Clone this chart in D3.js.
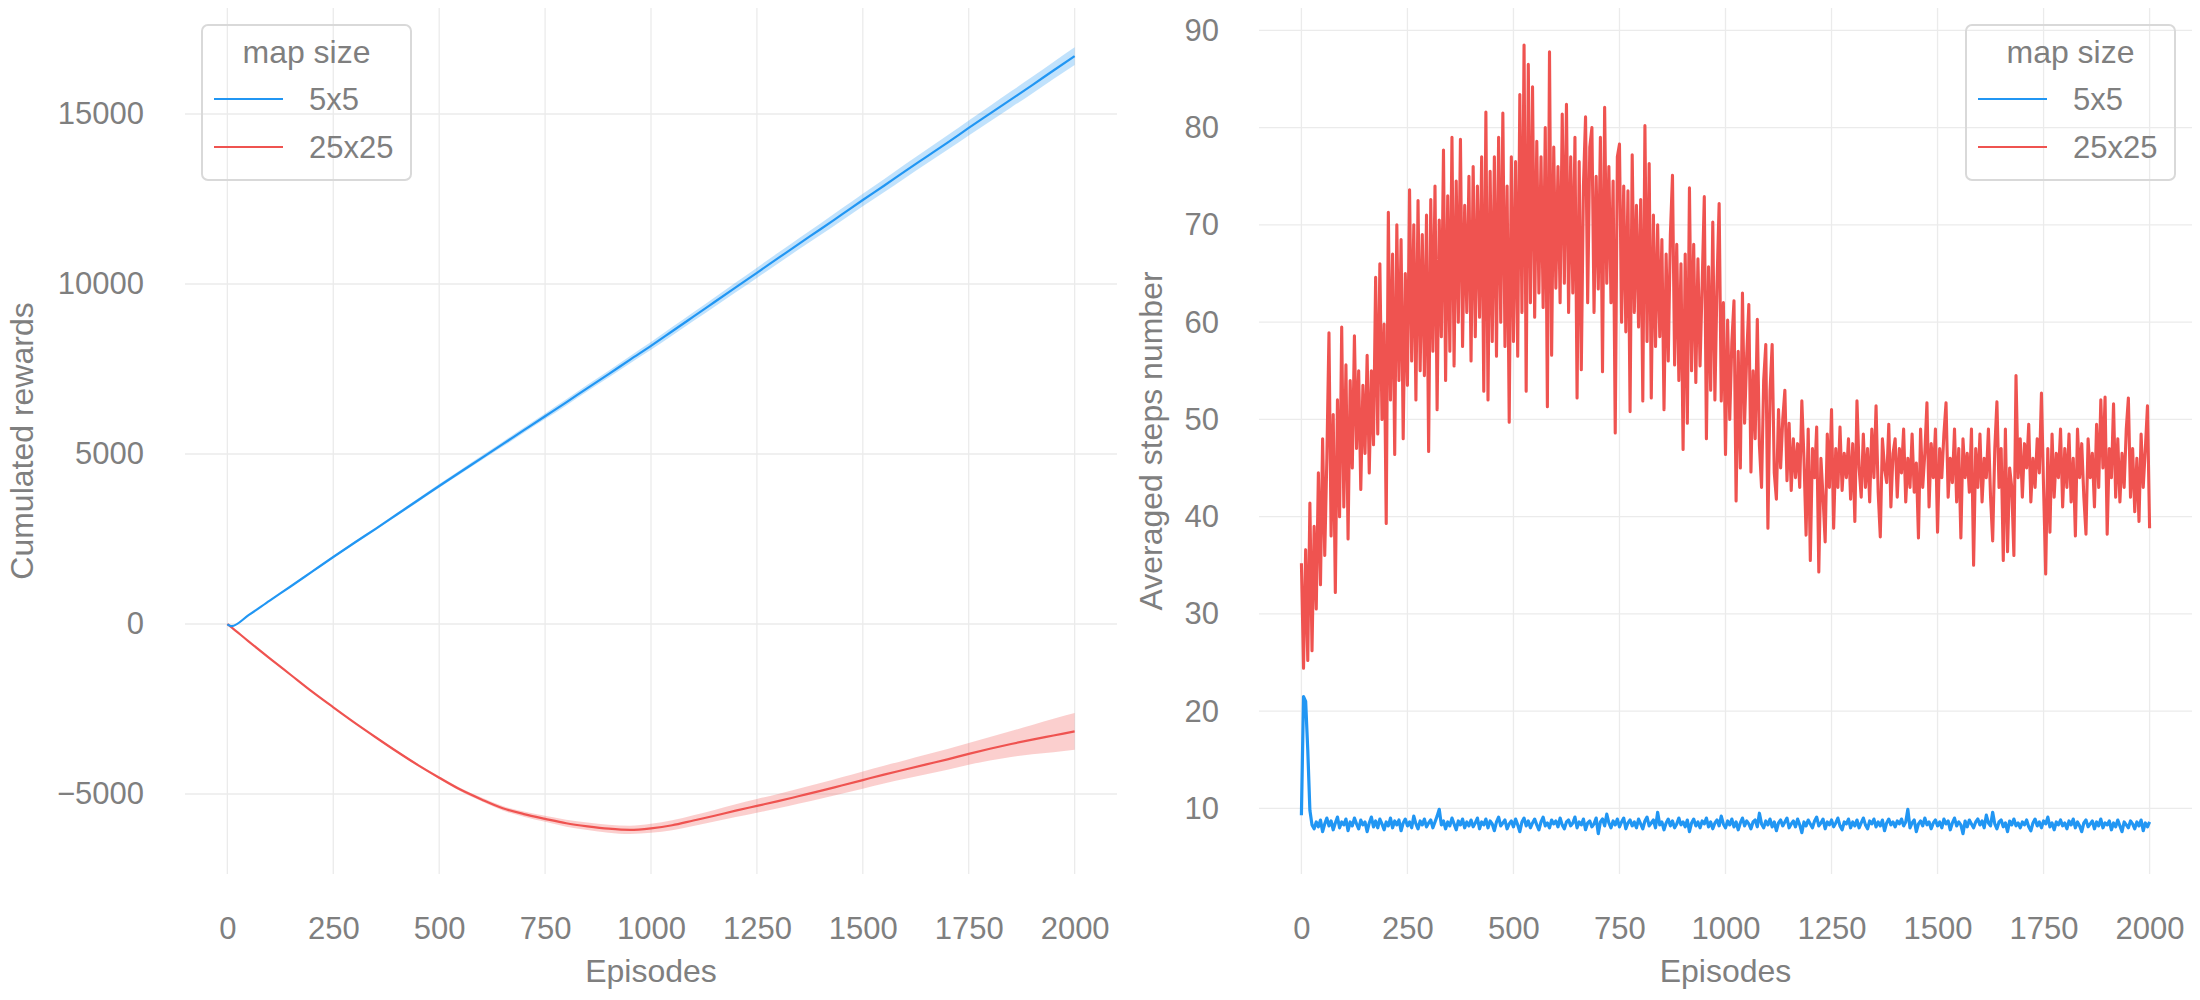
<!DOCTYPE html>
<html>
<head>
<meta charset="utf-8">
<script src="https://cdn.jsdelivr.net/npm/d3@7/dist/d3.min.js"></script>
<style>
  body { margin: 0; background: #ffffff; }
  svg { display: block; }
  text { font-family: "Liberation Sans", Arial, sans-serif; fill: #7f7f7f; }
</style>
</head>
<body>
<svg id="chart" width="2200" height="1000"></svg>
<script>
// ---------------- DATA ----------------
const seriesNames = ["5x5", "25x25"];
const seriesColors = ["#2196F3", "#EF5350"];
const legendTitle = "map size";

// Left panel: cumulated rewards (mean and spread of ribbon)
const leftEpisodes = [0, 10, 50, 100, 150, 200, 250, 300, 350, 400, 450, 500, 550, 600, 650, 700, 750, 800, 850, 900, 950, 1000,
  1050, 1100, 1150, 1200, 1250, 1300, 1350, 1400, 1450, 1500, 1550, 1600, 1650, 1700, 1750, 1800, 1850, 1900, 1950, 2000];
const rewards5x5 = [-10, -60, 260, 690, 1110, 1540, 1970, 2390, 2800, 3220, 3640, 4060, 4470, 4880, 5290, 5700, 6110, 6520, 6940, 7350, 7770, 8180,
  8610, 9040, 9470, 9900, 10330, 10760, 11190, 11610, 12040, 12470, 12890, 13320, 13740, 14160, 14590, 15010, 15430, 15850, 16280, 16700];
const spread5x5 = [0, 5, 10, 15, 20, 25, 30, 35, 40, 45, 50, 55, 60, 66, 72, 78, 84, 90, 96, 102, 108, 115,
  122, 129, 136, 143, 150, 157, 164, 171, 178, 185, 192, 199, 206, 213, 220, 228, 236, 244, 252, 260];
const rewards25x25 = [0, -100, -510, -1010, -1500, -1990, -2450, -2900, -3330, -3750, -4150, -4520, -4870, -5160, -5420, -5590, -5730, -5860, -5950, -6020, -6055, -6010,
  -5920, -5780, -5640, -5490, -5350, -5210, -5060, -4910, -4750, -4590, -4430, -4280, -4130, -3980, -3820, -3670, -3530, -3400, -3280, -3160];
const spread25x25 = [0, 5, 10, 12, 14, 16, 18, 20, 24, 28, 34, 40, 48, 56, 66, 76, 88, 100, 110, 118, 124, 132,
  145, 158, 172, 186, 200, 212, 222, 232, 242, 252, 262, 275, 290, 305, 320, 345, 380, 430, 490, 540];

// Right panel: averaged steps number, one value every 5 episodes (0..2000)
const stepEpisodeInterval = 5;
const steps5x5 = [
  9.3, 21.5, 21.0, 16.0, 9.8, 8.3, 7.9, 8.6, 8.1, 8.8, 7.6, 8.4, 9.0, 8.2, 8.7, 7.8, 8.5, 9.1, 8.0, 8.6,
  8.3, 8.9, 7.7, 8.6, 8.2, 9.0, 8.4, 7.9, 8.8, 8.3, 8.6, 7.6, 8.5, 9.1, 8.1, 8.7, 8.0, 8.9, 8.4, 7.8,
  8.6, 8.2, 9.0, 8.0, 8.7, 8.3, 8.8, 7.7, 8.5, 8.9, 8.2, 8.6, 8.0, 9.2, 8.4, 7.9, 8.7, 8.3, 8.9, 8.1,
  8.5, 8.8, 8.0, 8.6, 9.2, 9.9, 8.3, 8.7, 7.9, 8.6, 8.2, 9.0, 8.4, 7.8, 8.7, 8.3, 8.9, 8.0, 8.6, 8.2,
  8.8, 8.1, 8.5, 9.0, 7.9, 8.6, 8.3, 8.9, 8.0, 8.7, 8.4, 7.7, 8.6, 9.1, 8.2, 8.5, 8.8, 7.9, 8.4, 8.7,
  8.1, 8.9, 8.3, 7.6, 8.6, 9.0, 8.2, 8.7, 8.0, 8.5, 8.9, 8.3, 7.8, 8.6, 9.1, 8.2, 8.5, 8.0, 8.8, 8.4,
  8.7, 8.1, 9.0, 8.3, 7.9, 8.6, 8.8, 8.2, 8.5, 9.1, 8.0, 8.6, 8.3, 8.9, 7.8, 8.5, 8.7, 8.1, 8.4, 9.0,
  7.4, 8.6, 8.9, 8.2, 9.4, 8.5, 8.0, 8.7, 8.3, 8.9, 8.1, 8.6, 9.0, 7.9, 8.5, 8.8, 8.2, 8.6, 8.0, 8.9,
  8.4, 7.9, 8.7, 9.1, 8.2, 8.5, 8.8, 8.0, 9.6, 8.3, 8.6, 7.8, 8.5, 8.9, 8.2, 8.7, 8.0, 8.4, 9.0, 8.3,
  8.6, 8.1, 8.8, 7.6, 8.5, 8.9, 8.2, 8.6, 8.0, 8.7, 8.4, 9.0, 8.1, 8.6, 7.9, 8.5, 8.8, 8.2, 9.2, 8.4,
  8.0, 8.7, 8.3, 8.9, 8.1, 8.6, 7.8, 8.5, 9.0, 8.2, 8.7, 8.4, 7.9, 8.6, 8.8, 8.1, 9.5, 8.4, 8.0, 8.7,
  8.3, 8.9, 8.1, 8.6, 7.7, 8.5, 8.8, 8.2, 8.6, 9.0, 8.0, 8.4, 8.7, 8.1, 8.9, 8.3, 7.5, 8.6, 8.2, 8.8,
  8.4, 8.0, 8.7, 9.1, 8.2, 8.5, 8.9, 7.9, 8.6, 8.3, 8.8, 8.1, 8.5, 9.0, 8.2, 7.8, 8.6, 8.4, 8.9, 8.0,
  8.6, 8.2, 8.8, 8.0, 8.5, 9.0, 8.3, 7.9, 8.7, 8.4, 8.9, 8.1, 8.6, 8.2, 8.8, 7.7, 8.5, 8.9, 8.3, 8.6,
  8.1, 8.7, 8.4, 8.9, 8.2, 8.6, 9.9, 8.0, 8.5, 8.8, 7.6, 8.4, 8.7, 8.2, 9.0, 8.3, 8.6, 7.9, 8.5, 8.8,
  8.2, 8.6, 8.0, 8.9, 8.4, 8.7, 7.8, 8.5, 9.0, 8.2, 8.6, 8.3, 7.4, 8.7, 8.1, 8.8, 8.4, 8.0, 8.6, 8.9,
  8.3, 8.7, 8.0, 9.3, 8.5, 8.2, 9.6, 8.4, 7.9, 8.6, 8.8, 8.1, 8.5, 7.6, 8.7, 8.3, 8.9, 8.2, 8.5, 8.0,
  8.6, 8.3, 8.8, 8.1, 7.7, 8.5, 8.9, 8.2, 8.6, 8.0, 8.7, 8.4, 9.1, 8.1, 8.5, 7.8, 8.6, 8.3, 8.8, 8.2,
  8.5, 7.9, 8.7, 8.3, 8.9, 8.0, 8.6, 8.2, 7.6, 8.5, 8.8, 8.1, 8.4, 8.7, 7.9, 8.6, 8.2, 8.9, 8.0, 8.5,
  8.3, 8.7, 7.8, 8.5, 8.1, 8.8, 8.2, 7.6, 8.6, 8.3, 8.0, 8.7, 8.4, 7.9, 8.6, 8.2, 8.8, 7.7, 8.5, 8.1,
  8.6
];
const steps25x25 = [
  35.2, 24.4, 36.6, 25.2, 41.4, 26.2, 39.0, 30.5, 44.5, 33.0,
  48.0, 36.0, 46.0, 58.9, 38.0, 50.5, 32.2, 52.0, 40.0, 59.5,
  41.0, 55.6, 37.7, 54.0, 45.0, 58.6, 47.0, 55.0, 42.8, 53.5,
  46.5, 56.6, 44.5, 55.0, 47.4, 64.6, 48.5, 66.0, 50.0, 59.8,
  39.3, 71.3, 52.0, 67.0, 46.4, 70.0, 54.0, 68.5, 48.0, 65.0,
  53.5, 73.6, 56.0, 70.0, 52.0, 72.5, 55.0, 69.0, 54.5, 71.0,
  46.7, 72.6, 57.0, 74.0, 51.0, 70.5, 58.5, 77.7, 54.0, 73.0,
  57.0, 79.0, 55.5, 74.5, 60.0, 78.8, 57.5, 72.0, 61.0, 75.0,
  56.0, 76.0, 58.5, 74.0, 60.5, 77.0, 52.9, 81.6, 52.0, 75.5,
  58.0, 77.0, 56.5, 79.0, 60.0, 81.5, 57.5, 74.0, 49.7, 77.0,
  58.0, 76.5, 56.5, 83.4, 61.0, 88.5, 52.9, 86.5, 62.0, 84.2,
  60.5, 78.6, 63.0, 77.0, 61.5, 80.0, 51.3, 87.8, 56.6, 78.0,
  63.5, 76.0, 62.0, 81.4, 64.0, 82.4, 61.0, 77.0, 63.0, 79.0,
  52.2, 76.5, 55.1, 74.0, 81.1, 62.0, 78.0, 80.0, 61.0, 75.0,
  63.4, 79.0, 54.9, 82.1, 64.0, 76.0, 62.0, 74.5, 48.6, 77.0,
  78.3, 60.0, 74.0, 59.0, 73.5, 50.8, 77.2, 61.0, 72.0, 59.5,
  72.6, 51.9, 80.2, 58.0, 76.3, 52.2, 71.0, 57.5, 70.0, 58.5,
  68.5, 51.0, 67.0, 56.0, 69.0, 75.1, 55.6, 68.0, 54.0, 66.0,
  46.9, 67.0, 49.6, 73.8, 55.0, 68.0, 53.8, 66.5, 55.5, 64.0,
  72.9, 48.0, 65.7, 53.0, 70.3, 52.0, 64.0, 72.2, 51.9, 62.0,
  46.4, 60.2, 50.0, 58.0, 62.2, 41.6, 57.0, 45.0, 63.0, 49.6,
  56.5, 61.8, 44.6, 55.0, 48.0, 60.3, 47.3, 43.0, 54.0, 57.7,
  38.8, 52.9, 57.7, 44.5, 41.8, 51.0, 45.0, 50.0, 53.0, 43.7,
  49.6, 42.7, 48.0, 44.0, 47.5, 43.0, 51.9, 46.0, 38.1, 49.0,
  35.5, 47.0, 44.0, 49.2, 34.3, 46.0, 42.0, 37.4, 48.5, 43.0,
  51.0, 38.8, 47.0, 43.0, 49.2, 42.7, 46.5, 44.0, 48.0, 41.8,
  47.5, 39.5, 51.9, 45.0, 42.0, 48.5, 43.0, 47.0, 41.5, 49.0,
  44.0, 51.4, 42.5, 37.9, 48.0, 45.0, 43.5, 49.5, 41.0, 46.5,
  48.0, 42.0, 47.0, 44.5, 49.0, 41.5, 46.0, 43.0, 48.5, 42.5,
  45.5, 37.8, 49.0, 43.0, 46.5, 51.7, 41.0, 47.5, 44.0, 49.0,
  38.4, 47.0, 44.0, 48.5, 51.7, 42.0, 46.0, 43.5, 49.0, 41.5,
  47.0, 37.8, 48.0, 44.0, 46.5, 42.5, 49.0, 35.0, 47.0, 43.0,
  48.5, 41.5, 46.0, 44.0, 49.0, 42.0, 37.5, 47.0, 51.8, 43.0,
  47.0, 35.5, 49.0, 36.4, 45.0, 43.0, 36.0, 54.5, 44.0, 48.0,
  42.0, 47.5, 45.0, 49.5, 41.5, 46.0, 43.0, 48.0, 44.5, 52.7,
  43.0, 34.1, 47.0, 38.4, 48.5, 42.0, 46.5, 44.0, 49.0, 41.0,
  47.0, 43.0, 48.5, 41.5, 46.0, 38.0, 49.0, 44.0, 47.5, 42.0,
  38.2, 48.0, 44.0, 46.5, 41.0, 49.5, 43.0, 52.0, 45.0, 52.3,
  38.2, 47.0, 44.0, 51.6, 42.0, 48.0, 41.5, 46.5, 43.0, 49.0,
  52.2, 42.0, 47.0, 40.5, 46.0, 39.5, 48.5, 43.0, 47.0, 51.4,
  38.8
];

const xTicks = [0, 250, 500, 750, 1000, 1250, 1500, 1750, 2000];
const leftYTicks = [-5000, 0, 5000, 10000, 15000];
const rightYTicks = [10, 20, 30, 40, 50, 60, 70, 80, 90];
const xTitle = "Episodes";
const leftYTitle = "Cumulated rewards";
const rightYTitle = "Averaged steps number";

// ---------------- DRAWING ----------------
const svg = d3.select("#chart");
const gridColor = "#ebebeb";
const textColor = "#7f7f7f";

function panel(cfg) {
  const g = svg.append("g");
  const x = d3.scaleLinear().domain([-100, 2100]).range([cfg.left, cfg.right]);
  const y = d3.scaleLinear().domain(cfg.yDomain).range([cfg.bottom, cfg.top]);

  // grid
  g.append("g").selectAll("line").data(xTicks).join("line")
    .attr("x1", d => x(d)).attr("x2", d => x(d))
    .attr("y1", cfg.top).attr("y2", cfg.bottom)
    .attr("stroke", gridColor).attr("stroke-width", 1.3);
  g.append("g").selectAll("line").data(cfg.yTicks).join("line")
    .attr("x1", cfg.left).attr("x2", cfg.right)
    .attr("y1", d => y(d)).attr("y2", d => y(d))
    .attr("stroke", gridColor).attr("stroke-width", 1.3);

  // axes (text only)
  const fmt = d => (d < 0 ? "\u2212" + Math.abs(d) : String(d));
  const ax = g.append("g").attr("transform", `translate(0,${cfg.bottom})`)
    .call(d3.axisBottom(x).tickValues(xTicks).tickSize(0).tickPadding(43).tickFormat(fmt));
  const ay = g.append("g").attr("transform", `translate(${cfg.left},0)`)
    .call(d3.axisLeft(y).tickValues(cfg.yTicks).tickSize(0).tickPadding(cfg.yPad).tickFormat(fmt));
  [ax, ay].forEach(a => {
    a.select(".domain").remove();
    a.selectAll("text").attr("font-size", 31).attr("fill", textColor)
      .attr("font-family", '"Liberation Sans", Arial, sans-serif');
  });

  // titles
  g.append("text").attr("x", (cfg.left + cfg.right) / 2).attr("y", 982)
    .attr("text-anchor", "middle").attr("font-size", 32).text(xTitle);
  g.append("text")
    .attr("transform", `translate(${cfg.yTitleX},${(cfg.top + cfg.bottom) / 2}) rotate(-90)`)
    .attr("text-anchor", "middle").attr("font-size", 32).text(cfg.yTitle);

  cfg.draw(g, x, y);

  // legend
  const lg = g.append("g").attr("transform", `translate(${cfg.legendX},25)`);
  lg.append("rect").attr("width", 209).attr("height", 155).attr("rx", 6)
    .attr("fill", "none").attr("stroke", "#d9d9d9").attr("stroke-width", 2);
  lg.append("text").attr("x", 104.5).attr("y", 38).attr("text-anchor", "middle")
    .attr("font-size", 32).text(legendTitle);
  const items = lg.selectAll("g.item").data(seriesNames).join("g")
    .attr("transform", (d, i) => `translate(0,${74 + i * 48})`);
  items.append("line").attr("x1", 12).attr("x2", 81).attr("stroke-width", 2.2)
    .attr("stroke", (d, i) => seriesColors[i]);
  items.append("text").attr("x", 107).attr("y", 11).attr("font-size", 31).text(d => d);
}

// Left panel
panel({
  left: 185, right: 1117, top: 8, bottom: 874,
  yDomain: [-7353, 18118], yTicks: leftYTicks, yPad: 41,
  yTitle: leftYTitle, yTitleX: 33, legendX: 202,
  draw: (g, x, y) => {
    const groups = [
      { mean: rewards25x25, spread: spread25x25, color: seriesColors[1] },
      { mean: rewards5x5, spread: spread5x5, color: seriesColors[0] }
    ];
    groups.forEach(s => {
      const pts = leftEpisodes.map((e, i) => ({ e, m: s.mean[i], s: s.spread[i] }));
      g.append("path").datum(pts)
        .attr("d", d3.area().x(d => x(d.e)).y0(d => y(d.m - d.s)).y1(d => y(d.m + d.s)).curve(d3.curveMonotoneX))
        .attr("fill", s.color).attr("fill-opacity", 0.28);
      g.append("path").datum(pts)
        .attr("d", d3.line().x(d => x(d.e)).y(d => y(d.m)).curve(d3.curveMonotoneX))
        .attr("fill", "none").attr("stroke", s.color).attr("stroke-width", 2.2);
    });
  }
});

// Right panel
panel({
  left: 1259, right: 2192, top: 8, bottom: 874,
  yDomain: [3.25, 92.3], yTicks: rightYTicks, yPad: 40,
  yTitle: rightYTitle, yTitleX: 1162, legendX: 1966,
  draw: (g, x, y) => {
    [[steps25x25, seriesColors[1], 3.1], [steps5x5, seriesColors[0], 3.2]].forEach(([vals, color, w]) => {
      g.append("path").datum(vals)
        .attr("d", d3.line().x((d, i) => x(i * stepEpisodeInterval)).y(d => y(d)))
        .attr("fill", "none").attr("stroke", color).attr("stroke-width", w)
        .attr("stroke-linejoin", "round");
    });
  }
});
</script>
</body>
</html>
